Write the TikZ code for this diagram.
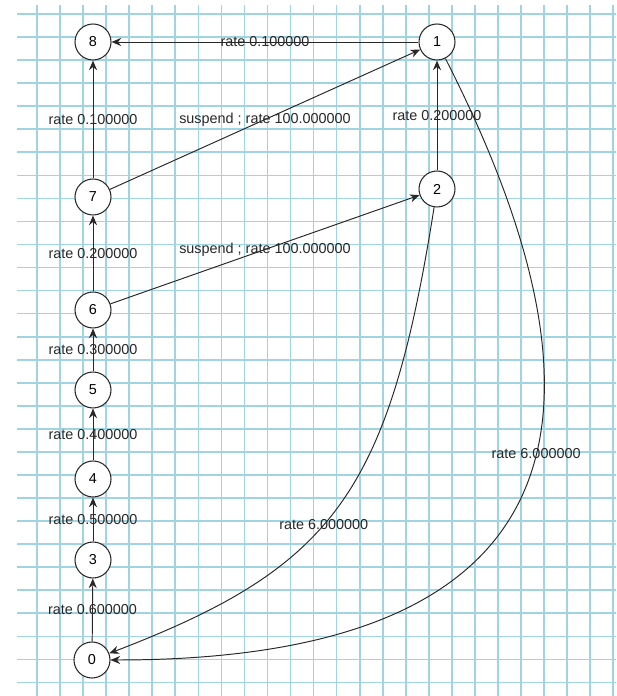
\documentclass[tikz,border=0pt]{standalone}
\usepackage{xcolor}
\usepackage{fontspec}
\setmainfont{Liberation Sans}
\usepackage{tikz}
\usetikzlibrary{arrows.meta}

\definecolor{paperblue}{RGB}{160,212,226}
\definecolor{inkgray}{RGB}{40,40,40}

\begin{document}
\begin{tikzpicture}[
        grid_line/.style={line width=0.95pt, draw=paperblue},
        state_node/.style={circle, draw=inkgray, fill=white, line width=0.6pt,
        minimum size=0.72cm, inner sep=0pt, font=\fontsize{8.2}{9.8}\selectfont},
        arrow/.style={-{Stealth[length=5.5pt, width=4.6pt]}, line width=0.55pt, inkgray},
        rate_label/.style={midway, inner sep=0pt, text=inkgray, font=\fontsize{8.2}{9.8}\selectfont}
    ]

    \useasboundingbox (0,0) rectangle (12.32,13.92);
    \fill[white] (0,0) rectangle (12.32,13.92);

    % Squared paper
    \foreach \k in {0,...,25}
        \draw[grid_line] ({0.74+0.461*\k},0) -- ({0.74+0.461*\k},13.82);
    \foreach \k in {0,...,29}
        \draw[grid_line] (0.34,{13.64-0.461*\k}) -- (12.32,{13.64-0.461*\k});

    % States, left column
    \node[state_node] (s8) at (1.86, 13.08) {8};
    \node[state_node] (s7) at (1.86,  9.98) {7};
    \node[state_node] (s6) at (1.86,  7.72) {6};
    \node[state_node] (s5) at (1.86,  6.12) {5};
    \node[state_node] (s4) at (1.86,  4.34) {4};
    \node[state_node] (s3) at (1.86,  2.72) {3};
    \node[state_node] (s0) at (1.84,  0.72) {0};

    % States, right column
    \node[state_node] (s1) at (8.74, 13.08) {1};
    \node[state_node] (s2) at (8.74, 10.14) {2};

    % Transitions up the left column
    \draw[arrow] (s0) -- (s3) node[rate_label] {rate 0.600000};
    \draw[arrow] (s3) -- (s4) node[rate_label] {rate 0.500000};
    \draw[arrow] (s4) -- (s5) node[rate_label] {rate 0.400000};
    \draw[arrow] (s5) -- (s6) node[rate_label] {rate 0.300000};
    \draw[arrow] (s6) -- (s7) node[rate_label] {rate 0.200000};
    \draw[arrow] (s7) -- (s8) node[rate_label] {rate 0.100000};

    % Suspend transitions
    \draw[arrow] (s7) -- (s1) node[rate_label] {suspend ; rate 100.000000};
    \draw[arrow] (s6) -- (s2) node[rate_label] {suspend ; rate 100.000000};

    % Right column
    \draw[arrow] (s2) -- (s1) node[rate_label] {rate 0.200000};
    \draw[arrow] (s1) -- (s8) node[rate_label] {rate 0.100000};

    % Back to state 0
    \draw[arrow] (s2) to[out=261, in=21, out distance=5.8cm, in distance=4.8cm]
        node[rate_label, pos=0.55] {rate 6.000000} (s0);
    \draw[arrow] (s1) to[out=-63, in=0, out distance=8.99cm, in distance=8.53cm]
        node[rate_label, pos=0.415] {rate 6.000000} (s0);

\end{tikzpicture}
\end{document}
